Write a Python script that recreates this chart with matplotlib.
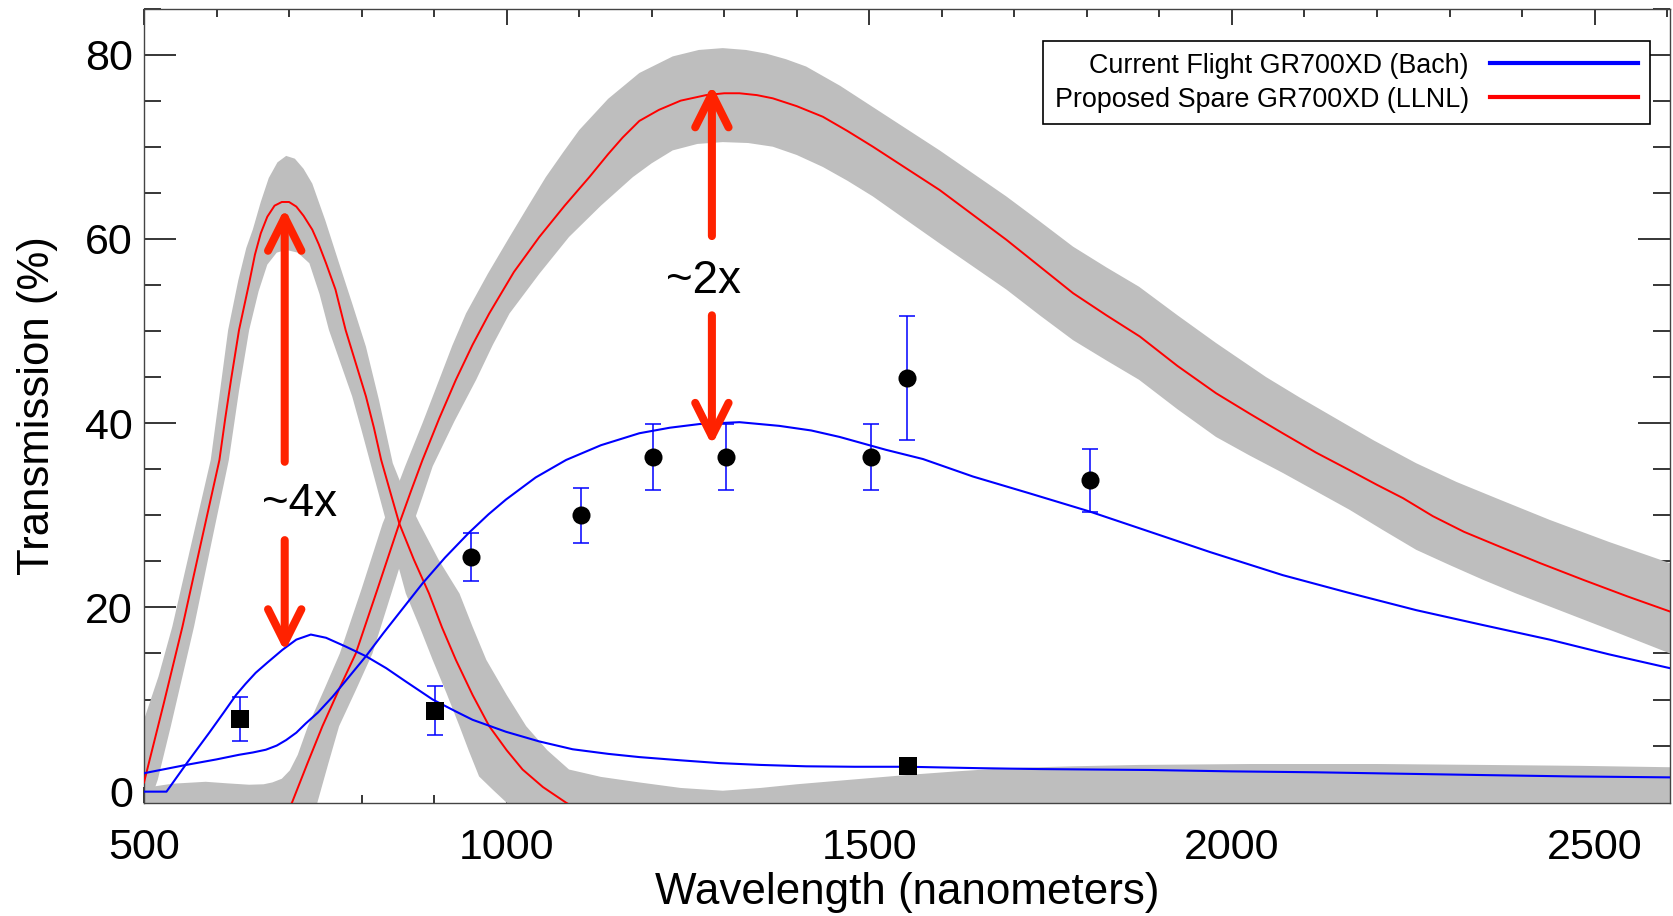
import numpy as np
import matplotlib
matplotlib.use('Agg')
import matplotlib.pyplot as plt
from matplotlib.lines import Line2D
from matplotlib.ticker import MultipleLocator

plt.rcParams['font.family'] = ['Liberation Sans', 'DejaVu Sans']

# ---------------- data ----------------
# Current flight grating (Bach), first order model
bach1_x = [500, 531, 560, 590, 610, 627, 640, 654, 670, 691, 710, 730, 751, 778, 806, 834,
           861, 898, 930, 953, 999, 1045, 1091, 1140, 1183, 1240, 1293, 1350, 1413, 1480,
           1553, 1650, 1735, 1886, 2000, 2116, 2230, 2346, 2470, 2604]
bach1_y = [0.0, 0.0, 3.2, 6.4, 8.6, 10.5, 11.7, 12.9, 14.0, 15.4, 16.5, 17.05, 16.7, 15.75,
           14.7, 13.4, 11.95, 10.0, 8.7, 7.8, 6.5, 5.45, 4.6, 4.1, 3.75, 3.4, 3.1, 2.9, 2.75,
           2.7, 2.7, 2.55, 2.45, 2.35, 2.2, 2.1, 1.95, 1.8, 1.65, 1.55]
# Current flight grating (Bach), second order model
bach2_x = [500, 558, 600, 631, 650, 668, 683, 696, 710, 723, 740, 760, 783, 806, 830, 852,
           884, 915, 948, 975, 999, 1040, 1082, 1130, 1183, 1225, 1266, 1321, 1376, 1420,
           1459, 1523, 1574, 1643, 1720, 1804, 1872, 1970, 2070, 2160, 2254, 2345, 2438,
           2520, 2604]
bach2_y = [2.0, 2.9, 3.5, 4.0, 4.25, 4.55, 5.0, 5.6, 6.4, 7.4, 8.6, 10.3, 12.5, 14.7, 17.2,
           19.4, 22.6, 25.4, 28.1, 30.1, 31.7, 34.1, 36.0, 37.6, 38.9, 39.5, 39.9, 40.1, 39.7,
           39.2, 38.5, 37.1, 36.1, 34.2, 32.4, 30.4, 28.6, 26.0, 23.5, 21.6, 19.7, 18.1, 16.5,
           14.9, 13.4]
# Proposed spare grating (LLNL), first order model
llnl1_x = [500, 527, 553, 578, 604, 612, 620, 631, 645, 653, 661, 670, 680, 690, 700, 710,
           720, 732, 741, 751, 764, 778, 792, 806, 817, 827, 840, 852, 872, 893, 911, 930,
           953, 976, 1000, 1022, 1050, 1082, 1100]
llnl1_y = [1.0, 9.5, 17.9, 26.8, 36.0, 40.5, 44.7, 50.1, 55.2, 58.3, 60.6, 62.4, 63.6, 64.0,
           64.0, 63.5, 62.5, 61.0, 59.4, 57.35, 54.5, 50.1, 46.5, 42.9, 39.5, 36.0, 32.4, 29.1,
           25.2, 21.5, 17.8, 14.3, 10.5, 7.1, 4.5, 2.4, 0.5, -1.2, -2.0]
# Proposed spare grating (LLNL), second order model
llnl2_x = [690, 704, 725, 746, 770, 792, 822, 852, 868, 884, 907, 930, 953, 976, 1010, 1045,
           1080, 1114, 1140, 1160, 1183, 1210, 1240, 1275, 1300, 1321, 1345, 1367, 1400,
           1436, 1470, 1505, 1550, 1597, 1643, 1689, 1735, 1781, 1827, 1873, 1925, 1978,
           2025, 2070, 2116, 2162, 2200, 2236, 2277, 2320, 2369, 2425, 2484, 2545, 2604]
llnl2_y = [-3.0, -1.2, 3.0, 7.1, 11.3, 15.0, 22.0, 29.1, 32.6, 36.0, 40.5, 44.7, 48.5, 51.9,
           56.4, 60.2, 63.6, 66.7, 69.2, 71.0, 72.8, 74.0, 75.0, 75.6, 75.8, 75.8, 75.6,
           75.25, 74.4, 73.25, 71.7, 70.0, 67.7, 65.3, 62.6, 59.9, 57.0, 54.1, 51.7, 49.4,
           46.2, 43.25, 41.0, 38.9, 36.8, 34.9, 33.3, 31.85, 29.9, 28.2, 26.6, 24.8, 23.0,
           21.2, 19.55]

# uncertainty envelopes (gray bands)
band1_up_x = [500, 520, 539, 565, 592, 604, 616, 630, 641, 650, 661, 672, 684, 696, 708,
              720, 732, 750, 769, 787, 806, 824, 843, 860, 880, 906, 935, 953, 972, 1000,
              1027, 1056, 1086, 1130, 1183, 1240, 1298, 1350, 1400, 1475, 1551, 1620, 1689,
              1780, 1872, 2025, 2200, 2346, 2480, 2604]
band1_up_y = [7.8, 12.5, 17.9, 26.8, 36.0, 43.0, 50.1, 55.5, 59.0, 61.0, 64.0, 66.6, 68.3,
              69.0, 68.7, 67.6, 66.0, 62.0, 57.35, 53.0, 48.3, 42.5, 35.65, 32.3, 29.1, 25.2,
              21.5, 17.9, 14.3, 10.5, 7.1, 4.5, 2.4, 1.6, 1.0, 0.4, 0.1, 0.4, 0.8, 1.3, 1.8,
              2.2, 2.55, 2.75, 2.9, 3.0, 3.0, 2.9, 2.8, 2.65]
band1_lo_x = [500, 519, 528, 537, 553, 569, 593, 617, 631, 645, 658, 670, 683, 696, 712,
              728, 742, 755, 771, 787, 799, 811, 836, 861, 880, 898, 917, 935, 948, 962,
              981, 1000, 1020, 2604]
band1_lo_y = [-3.0, 1.3, 4.2, 7.1, 12.5, 17.9, 27.0, 36.0, 43.5, 50.1, 54.3, 57.2, 58.5,
              58.8, 58.5, 57.35, 54.0, 50.1, 46.5, 42.9, 39.5, 36.0, 28.7, 21.5, 17.9, 14.3,
              10.7, 7.1, 4.4, 1.65, 0.2, -1.2, -3.0, -3.0]
band2_up_x = [500, 539, 585, 615, 645, 665, 677, 690, 701, 712, 726, 748, 770, 800, 829,
              845, 860, 884, 907, 925, 944, 974, 1004, 1030, 1054, 1078, 1100, 1140, 1183,
              1229, 1265, 1298, 1330, 1358, 1385, 1413, 1460, 1505, 1550, 1597, 1643, 1689,
              1735, 1781, 1827, 1872, 1925, 1978, 2047, 2093, 2139, 2196, 2254, 2310, 2369,
              2438, 2520, 2604]
band2_up_y = [0.4, 0.86, 1.07, 0.9, 0.75, 0.8, 1.0, 1.4, 2.3, 4.0, 7.1, 11.0, 15.0, 22.0,
              29.1, 32.2, 35.3, 40.0, 44.7, 48.4, 51.9, 56.2, 60.2, 63.6, 66.7, 69.4, 71.8,
              75.2, 78.0, 79.8, 80.5, 80.7, 80.5, 80.1, 79.5, 78.7, 76.6, 74.3, 72.0, 69.6,
              67.1, 64.6, 61.9, 59.15, 56.9, 54.8, 51.7, 48.7, 45.0, 42.8, 40.7, 38.1, 35.65,
              33.6, 31.7, 29.5, 27.1, 24.8]
band2_lo_x = [500, 735, 739, 754, 769, 792, 815, 843, 870, 884, 898, 928, 958, 981, 1004,
              1045, 1086, 1130, 1174, 1200, 1229, 1263, 1298, 1333, 1367, 1400, 1436, 1470,
              1505, 1550, 1597, 1643, 1689, 1735, 1781, 1827, 1872, 1925, 1978, 2024, 2070,
              2116, 2162, 2208, 2254, 2300, 2346, 2392, 2438, 2520, 2604]
band2_lo_y = [-3.0, -3.0, -1.2, 3.0, 7.1, 11.0, 15.0, 22.0, 28.8, 32.0, 35.3, 40.2, 44.7,
              48.5, 51.9, 56.2, 60.2, 63.6, 66.7, 68.2, 69.6, 70.3, 70.5, 70.4, 70.0, 69.1,
              67.8, 66.3, 64.6, 62.1, 59.5, 57.0, 54.5, 51.7, 49.0, 46.8, 44.7, 41.5, 38.5,
              36.5, 34.6, 32.6, 30.6, 28.4, 26.25, 24.6, 23.0, 21.5, 20.1, 17.6, 15.0]

# measured points
sq_x = [633, 901, 1553]
sq_y = [7.9, 8.8, 2.8]
sq_err = [2.35, 2.7, 0.35]
ci_x = [951, 1102, 1202, 1302, 1502, 1552, 1804]
ci_y = [25.5, 30.0, 36.3, 36.3, 36.3, 44.9, 33.8]
ci_err = [2.6, 3.0, 3.6, 3.6, 3.6, 6.7, 3.4]

legend_labels = ['Current Flight GR700XD (Bach)', 'Proposed Spare GR700XD (LLNL)']
x_ticks = [500, 1000, 1500, 2000, 2500]
y_ticks = [0, 20, 40, 60, 80]

# annotations: (x, tail_y, tip_y)
arrows = [(694, 35.8, 63.3), (694, 27.3, 15.2), (1283, 60.3, 76.7), (1283, 51.7, 37.6)]
notes = [(715, 31.2, '~4x'), (1272, 55.4, '~2x')]

# ---------------- figure ----------------
W, H = 1674, 916
fig = plt.figure(figsize=(W / 100, H / 100), dpi=100)
L, R, T, B = 144, 1670, 8.5, 802.7
ax = fig.add_axes([L / W, 1 - B / H, (R - L) / W, (B - T) / H])
ax.set_xlim(500, 2604)
ax.set_ylim(-1.2, 85)

gray = '#bebebe'
for ux, uy, lx, ly in [(band1_up_x, band1_up_y, band1_lo_x, band1_lo_y),
                       (band2_up_x, band2_up_y, band2_lo_x, band2_lo_y)]:
    px = np.concatenate([ux, lx[::-1]])
    py = np.concatenate([uy, ly[::-1]])
    ax.fill(px, py, color=gray, lw=0, zorder=1)

ax.plot(llnl1_x, llnl1_y, color='#ff0000', lw=1.4, zorder=3)
ax.plot(llnl2_x, llnl2_y, color='#ff0000', lw=1.4, zorder=3)
ax.plot(bach1_x, bach1_y, color='#0000ff', lw=1.5, zorder=3)
ax.plot(bach2_x, bach2_y, color='#0000ff', lw=1.5, zorder=3)

ax.errorbar(sq_x, sq_y, yerr=sq_err, fmt='none', ecolor='#0000ff', elinewidth=1.1,
            capsize=6, capthick=1.1, zorder=4)
ax.errorbar(ci_x, ci_y, yerr=ci_err, fmt='none', ecolor='#0000ff', elinewidth=1.1,
            capsize=6, capthick=1.1, zorder=4)
ax.plot(sq_x, sq_y, 's', color='black', ms=13, mew=0, zorder=5)
ax.plot(ci_x, ci_y, 'o', color='black', ms=13, mew=0, zorder=5)

acol = '#ff2200'
for x, y0, y1 in arrows:
    ax.annotate('', xy=(x, y1), xytext=(x, y0),
                arrowprops=dict(arrowstyle='->,head_length=1.2,head_width=0.6',
                                color=acol, lw=5.8, shrinkA=0, shrinkB=0,
                                mutation_scale=20, capstyle='round', joinstyle='round'),
                zorder=6)
for x, y, s in notes:
    ax.text(x, y, s, fontsize=33, ha='center', va='center', color='black', zorder=7)

# axes styling
ax.set_axisbelow(True)
for sp in ax.spines.values():
    sp.set_color('#444444')
    sp.set_linewidth(1.0)
ax.set_xticks(x_ticks)
ax.set_yticks(y_ticks)
ax.xaxis.set_minor_locator(MultipleLocator(100))
ax.yaxis.set_minor_locator(MultipleLocator(5))
ax.tick_params(which='both', direction='in', top=True, right=True, color='black', width=1.1)
ax.tick_params(axis='y', which='major', length=23, pad=8, labelsize=31)
ax.tick_params(axis='y', which='minor', length=12)
ax.tick_params(axis='x', which='major', length=11.5, pad=18.5, labelsize=31)
ax.tick_params(axis='x', which='minor', length=6)

fig.text(907 / W, 1 - 892.5 / H, 'Wavelength (nanometers)', fontsize=31.7, ha='center',
         va='center')
fig.text(38 / W, 1 - 406 / H, 'Transmission (%)', fontsize=31.5, ha='center', va='center',
         rotation=90)

handles = [Line2D([], [], color='#0000ff', lw=3), Line2D([], [], color='#ff0000', lw=3)]
leg = ax.legend(handles, legend_labels, loc='upper right',
                bbox_to_anchor=((1650 - L) / (R - L), (B - 41) / (B - T)),
                borderaxespad=0, markerfirst=False, fontsize=19.4, frameon=True,
                fancybox=False, edgecolor='black', framealpha=1, borderpad=0.43,
                labelspacing=0.3, handlelength=5.5, handletextpad=0.8)
leg.get_frame().set_linewidth(1.2)
leg.set_zorder(8)

fig.savefig('out.png', dpi=100)
